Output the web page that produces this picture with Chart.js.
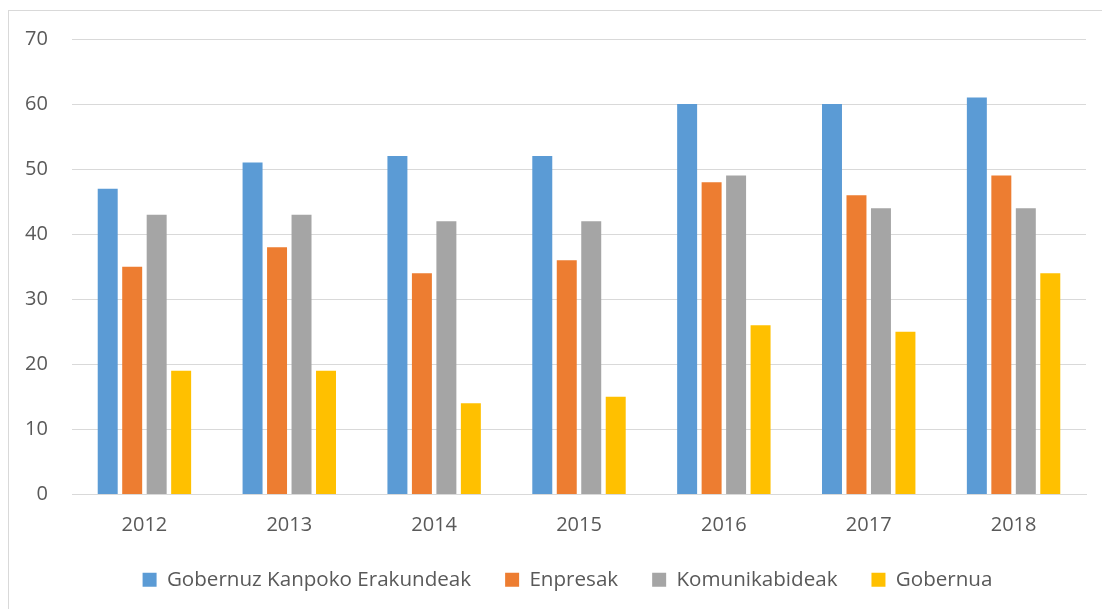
<!DOCTYPE html>
<html>
<head>
<meta charset="utf-8">
<script src="https://cdn.jsdelivr.net/npm/chart.js@4"></script>
<style>
  html, body { margin: 0; padding: 0; background: #fff; }
  #wrap { position: relative; width: 1102px; height: 609px; overflow: hidden; }
  #frame { position: absolute; left: 8px; top: 10px; width: 1110px; height: 620px; border: 1px solid #d9d9d9; box-sizing: border-box; }
  canvas { position: absolute; left: 0; top: 0; }
</style>
</head>
<body>
<div id="wrap">
  <div id="frame"></div>
  <canvas id="chart" width="1102" height="609"></canvas>
</div>
<script>
// values
const years = ['2012', '2013', '2014', '2015', '2016', '2017', '2018'];
const kanpokoErakundeak = [47, 51, 52, 52, 60, 60, 61];
const enpresak = [35, 38, 34, 36, 48, 46, 49];
const komunikabideak = [43, 43, 42, 42, 49, 44, 44];
const gobernua = [19, 19, 14, 15, 26, 25, 34];
const yTicks = [0, 10, 20, 30, 40, 50, 60, 70];

const fontFamily = '"Open Sans", "Liberation Sans", sans-serif';
const textColor = '#595959';

function series(label, data, color) {
    return {
        label: label,
        data: data,
        backgroundColor: color,
        borderWidth: 0,
        categoryPercentage: 0.676,
        barPercentage: 0.816
    };
}

new Chart(document.getElementById('chart'), {
    type: 'bar',
    data: {
        labels: years,
        datasets: [
            series('Gobernuz Kanpoko Erakundeak', kanpokoErakundeak, '#5B9BD5'),
            series('Enpresak', enpresak, '#ED7D31'),
            series('Komunikabideak', komunikabideak, '#A5A5A5'),
            series('Gobernua', gobernua, '#FFC000')
        ]
    },
    options: {
        responsive: false,
        animation: false,
        layout: {
            // left padding only shifts the legend centre, y scale keeps plot left at 72
            padding: { left: 49, right: 16, top: 39, bottom: 9 }
        },
        scales: {
            x: {
                grid: { display: false, drawTicks: false },
                border: { color: '#d9d9d9', width: 1 },
                ticks: {
                    color: textColor,
                    padding: 19,
                    font: { family: fontFamily, size: 20 }
                },
                afterFit: function(scale) { scale.height = 41; }
            },
            y: {
                min: 0,
                max: 70,
                afterBuildTicks: function(scale) {
                    scale.ticks = yTicks.map(v => ({ value: v }));
                },
                grid: { color: '#d9d9d9', lineWidth: 1, drawTicks: false },
                border: { display: false },
                ticks: {
                    color: textColor,
                    // mirrored labels are not clipped to the narrow scale box
                    mirror: true,
                    crossAlign: 'far',
                    padding: -47,
                    font: { family: fontFamily, size: 20 }
                },
                afterFit: function(scale) { scale.width = 23; }
            }
        },
        plugins: {
            legend: {
                position: 'bottom',
                labels: {
                    color: textColor,
                    boxWidth: 14,
                    boxHeight: 14,
                    padding: 34,
                    font: { family: fontFamily, size: 20.6 }
                }
            },
            tooltip: { enabled: false }
        }
    }
});
</script>
</body>
</html>
